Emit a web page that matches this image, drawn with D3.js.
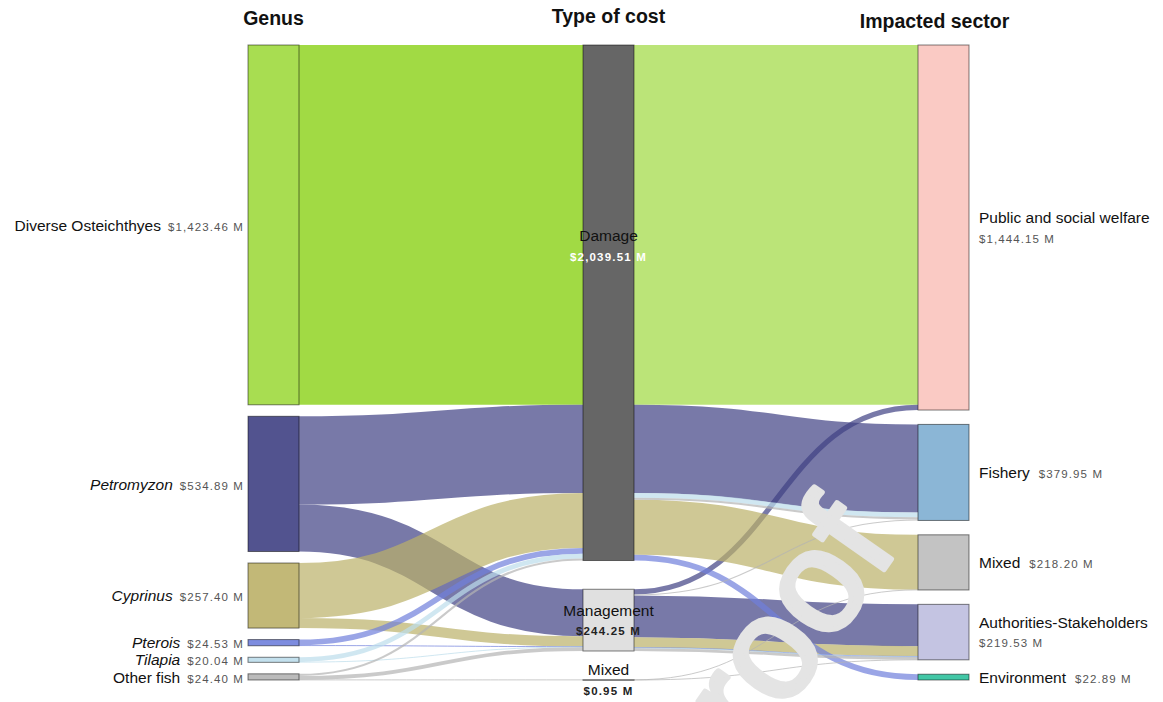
<!DOCTYPE html>
<html>
<head>
<meta charset="utf-8">
<script src="https://cdn.jsdelivr.net/npm/d3@7"></script>
<style>
  body { margin: 0; background: #fff; }
  svg { display: block; font-family: "Liberation Sans", Arial, sans-serif; }
</style>
</head>
<body>
<div id="chart"></div>
<script>
// ---- data (US$ millions) ----
const columnTitles = ["Genus", "Type of cost", "Impacted sector"];
const genera = ["Diverse Osteichthyes", "Petromyzon", "Cyprinus", "Pterois", "Tilapia", "Other fish"];
const genusTotals = [1423.46, 534.89, 257.40, 24.53, 20.04, 24.40];
const costTypes = ["Damage", "Management", "Mixed"];
const costTotals = [2039.51, 244.25, 0.95];
const sectors = ["Public and social welfare", "Fishery", "Mixed", "Authorities-Stakeholders", "Environment"];
const sectorTotals = [1444.15, 379.95, 218.20, 219.53, 22.89];
// genus -> type of cost -> impacted sector, value
const flows = [
  ["Diverse Osteichthyes", "Damage", "Public and social welfare", 1423.46],
  ["Petromyzon", "Damage", "Fishery", 348.84],
  ["Petromyzon", "Management", "Public and social welfare", 20.69],
  ["Petromyzon", "Management", "Authorities-Stakeholders", 165.36],
  ["Cyprinus", "Damage", "Mixed", 217.40],
  ["Cyprinus", "Management", "Authorities-Stakeholders", 40.00],
  ["Pterois", "Damage", "Environment", 22.89],
  ["Pterois", "Management", "Authorities-Stakeholders", 1.64],
  ["Tilapia", "Damage", "Fishery", 18.50],
  ["Tilapia", "Management", "Authorities-Stakeholders", 1.54],
  ["Other fish", "Damage", "Fishery", 8.42],
  ["Other fish", "Management", "Fishery", 4.19],
  ["Other fish", "Management", "Authorities-Stakeholders", 10.84],
  ["Other fish", "Mixed", "Mixed", 0.80],
  ["Other fish", "Mixed", "Authorities-Stakeholders", 0.15]
];

// ---- styles ----
const genusColors = ["#9ed93e", "#3f4083", "#bbb068", "#6f7fdb", "#bcddeb", "#b4b4b4"];
const costColors = ["#555555", "#dddddd", "#555555"];
const sectorColors = ["#fac4be", "#7eaed2", "#bcbcbc", "#bebedf", "#2ec19c"];
const italicNames = new Set(["Petromyzon", "Cyprinus", "Pterois", "Tilapia"]);

const width = 1163, height = 702;
const yTop = 45, yBottom = 680, nodeWidth = 51, nodePadding = 11.5;
const fmt = v => d3.format("$,.2f")(v) + " M";

const svg = d3.select("#chart").append("svg")
  .attr("width", width).attr("height", height);

const x = d3.scalePoint().domain([0, 1, 2]).range([248, 918]);

// nodes per column
const columns = [
  genera.map((name, i) => ({ name, col: 0, idx: i, total: genusTotals[i], color: genusColors[i] })),
  costTypes.map((name, i) => ({ name, col: 1, idx: i, total: costTotals[i], color: costColors[i] })),
  sectors.map((name, i) => ({ name, col: 2, idx: i, total: sectorTotals[i], color: sectorColors[i] }))
];
columns.forEach((nodes, c) => nodes.forEach(n => {
  n.value = d3.sum(flows, f => f[c] === n.name ? f[3] : 0);
  n.x0 = x(c); n.x1 = x(c) + nodeWidth;
  n.out = []; n.in = [];
}));

const ky = d3.min(columns, nodes =>
  (yBottom - yTop - (nodes.length - 1) * nodePadding) / d3.sum(nodes, n => n.value));

columns.forEach(nodes => {
  const used = d3.sum(nodes, n => n.value) * ky;
  const pad = (yBottom - yTop - used) / (nodes.length - 1);
  let y = yTop;
  nodes.forEach(n => {
    n.y0 = y; n.y1 = y + n.value * ky; y = n.y1 + pad;
  });
});

const byName = columns.map(nodes => new Map(nodes.map(n => [n.name, n])));
const genusIndex = new Map(genera.map((g, i) => [g, i]));

// links genus -> type (aggregated), type -> sector (per genus)
const links = [];
d3.rollup(flows, v => d3.sum(v, f => f[3]), f => f[0], f => f[1]).forEach((m, g) => {
  m.forEach((value, t) => links.push({
    side: 0, genus: g, value,
    source: byName[0].get(g), target: byName[1].get(t)
  }));
});
flows.forEach(f => links.push({
  side: 1, genus: f[0], value: f[3],
  source: byName[1].get(f[1]), target: byName[2].get(f[2])
}));
links.forEach(l => { l.source.out.push(l); l.target.in.push(l); l.width = l.value * ky; });

columns.flat().forEach(n => {
  let y = n.y0;
  n.out.sort((a, b) => a.target.y0 - b.target.y0 || genusIndex.get(a.genus) - genusIndex.get(b.genus))
    .forEach(l => { l.y0 = y + l.width / 2; y += l.width; });
  y = n.y0;
  n.in.sort((a, b) => a.source.y0 - b.source.y0 || genusIndex.get(a.genus) - genusIndex.get(b.genus))
    .forEach(l => { l.y1 = y + l.width / 2; y += l.width; });
});

const linkPath = d3.linkHorizontal()
  .source(d => [d.source.x1, d.y0])
  .target(d => [d.target.x0, d.y1]);

svg.append("g")
  .attr("fill", "none")
  .selectAll("path")
  .data(links)
  .join("path")
  .attr("d", linkPath)
  .attr("stroke", d => genusColors[genusIndex.get(d.genus)])
  .attr("stroke-opacity", d => d.side === 0 && d.value > 1000 ? 0.97 : 0.7)
  .attr("stroke-width", d => Math.max(1, d.width));

// watermark
svg.append("text")
  .attr("transform", "translate(800,690) rotate(-55)")
  .attr("text-anchor", "middle")
  .attr("font-size", 146)
  .attr("fill", "#e4e4e4")
  .attr("stroke", "#e4e4e4")
  .attr("stroke-width", 5)
  .attr("stroke-linejoin", "round")
  .text("Proof");

// nodes
svg.append("g")
  .selectAll("rect")
  .data(columns.flat())
  .join("rect")
  .attr("x", d => d.x0)
  .attr("y", d => d.y0)
  .attr("width", nodeWidth)
  .attr("height", d => Math.max(0.5, d.y1 - d.y0))
  .attr("fill", d => d.color)
  .attr("fill-opacity", 0.9)
  .attr("stroke", "#000")
  .attr("stroke-opacity", 0.5)
  .attr("stroke-width", 1);

// column titles
const titleY = [25, 23, 28], titleDx = [0, 0, -9];
svg.append("g")
  .selectAll("text")
  .data(columnTitles)
  .join("text")
  .attr("x", (d, i) => x(i) + nodeWidth / 2 + titleDx[i])
  .attr("y", (d, i) => titleY[i])
  .attr("text-anchor", "middle")
  .attr("font-weight", "bold")
  .attr("font-size", 19.5)
  .attr("fill", "#111")
  .text(d => d);

// genus labels
const gl = svg.append("g").selectAll("text")
  .data(columns[0])
  .join("text")
  .attr("x", d => d.x0 - 4)
  .attr("y", d => (d.y0 + d.y1) / 2)
  .attr("dy", "0.35em")
  .attr("text-anchor", "end");
gl.append("tspan")
  .attr("font-size", 15.5)
  .attr("fill", "#111")
  .attr("font-style", d => italicNames.has(d.name) ? "italic" : null)
  .text(d => d.name);
gl.append("tspan")
  .attr("dx", 7)
  .attr("font-size", 11.5)
  .attr("letter-spacing", 1.1)
  .attr("fill", "#555")
  .text(d => fmt(d.total));

// cost type labels (centred on node)
const anchorFrac = { Damage: 0.39 };
const tl = svg.append("g").selectAll("g")
  .data(columns[1])
  .join("g")
  .attr("transform", d => `translate(${(d.x0 + d.x1) / 2},${d.y0 + (d.y1 - d.y0) * (anchorFrac[d.name] ?? 0.5)})`);
tl.append("text")
  .attr("y", -10)
  .attr("dy", "0.35em")
  .attr("text-anchor", "middle")
  .attr("font-size", 15.5)
  .attr("fill", "#111")
  .text(d => d.name);
tl.append("text")
  .attr("y", 11)
  .attr("dy", "0.35em")
  .attr("text-anchor", "middle")
  .attr("font-size", 11.5)
  .attr("font-weight", "bold")
  .attr("letter-spacing", 1.2)
  .attr("fill", d => d.name === "Damage" ? "#fff" : "#222")
  .text(d => fmt(d.total));

// sector labels
const sl = svg.append("g").selectAll("g")
  .data(columns[2])
  .join("g")
  .attr("transform", d => `translate(${d.x1 + 10},${(d.y0 + d.y1) / 2})`);
sl.each(function (d) {
  const g = d3.select(this);
  const twoLines = d.name.length > 12;
  const t = g.append("text")
    .attr("y", twoLines ? -10 : 0)
    .attr("dy", "0.35em");
  t.append("tspan")
    .attr("font-size", 15.5)
    .attr("fill", "#111")
    .text(d.name);
  if (twoLines) {
    g.append("text")
      .attr("y", 11)
      .attr("dy", "0.35em")
      .attr("font-size", 11.5)
      .attr("letter-spacing", 1.1)
      .attr("fill", "#555")
      .text(fmt(d.total));
  } else {
    t.append("tspan")
      .attr("dx", 9)
      .attr("font-size", 11.5)
      .attr("letter-spacing", 1.1)
      .attr("fill", "#555")
      .text(fmt(d.total));
  }
});
</script>
</body>
</html>
